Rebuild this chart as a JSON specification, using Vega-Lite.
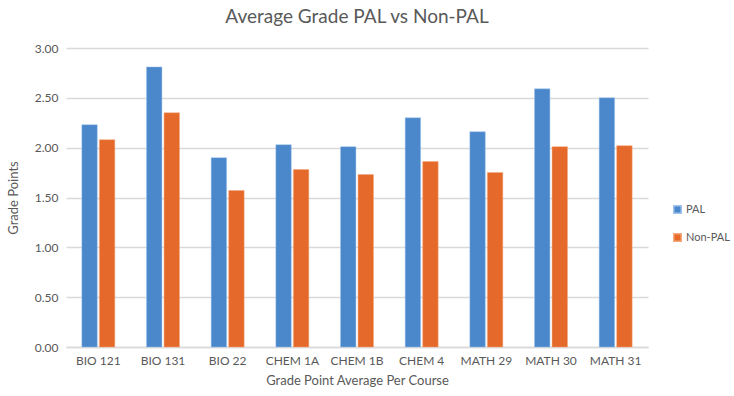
{
  "$schema": "https://vega.github.io/schema/vega-lite/v6.json",
  "autosize": "none",
  "width": 582,
  "height": 299,
  "padding": {"left": 66, "top": 48, "right": 86, "bottom": 49},
  "background": "white",
  "title": {
    "text": "Average Grade PAL vs Non-PAL",
    "font": "Lato",
    "fontSize": 19,
    "fontWeight": "normal",
    "color": "#595959",
    "anchor": "middle",
    "offset": 15
  },
  "data": {
    "values": [
      {"course": "BIO 121", "group": "PAL", "gpa": 2.23},
      {"course": "BIO 121", "group": "Non-PAL", "gpa": 2.08},
      {"course": "BIO 131", "group": "PAL", "gpa": 2.81},
      {"course": "BIO 131", "group": "Non-PAL", "gpa": 2.35},
      {"course": "BIO 22", "group": "PAL", "gpa": 1.90},
      {"course": "BIO 22", "group": "Non-PAL", "gpa": 1.57},
      {"course": "CHEM 1A", "group": "PAL", "gpa": 2.03},
      {"course": "CHEM 1A", "group": "Non-PAL", "gpa": 1.78},
      {"course": "CHEM 1B", "group": "PAL", "gpa": 2.01},
      {"course": "CHEM 1B", "group": "Non-PAL", "gpa": 1.73},
      {"course": "CHEM 4", "group": "PAL", "gpa": 2.30},
      {"course": "CHEM 4", "group": "Non-PAL", "gpa": 1.86},
      {"course": "MATH 29", "group": "PAL", "gpa": 2.16},
      {"course": "MATH 29", "group": "Non-PAL", "gpa": 1.75},
      {"course": "MATH 30", "group": "PAL", "gpa": 2.59},
      {"course": "MATH 30", "group": "Non-PAL", "gpa": 2.01},
      {"course": "MATH 31", "group": "PAL", "gpa": 2.50},
      {"course": "MATH 31", "group": "Non-PAL", "gpa": 2.02}
    ]
  },
  "mark": {"type": "bar", "strokeWidth": 0.8, "strokeOpacity": 0.6},
  "encoding": {
    "x": {
      "field": "course",
      "type": "nominal",
      "sort": null,
      "scale": {"paddingInner": 0.49, "paddingOuter": 0.245},
      "axis": {
        "title": "Grade Point Average Per Course",
        "labelAngle": 0,
        "labelFont": "Lato",
        "labelFontSize": 12,
        "labelColor": "#595959",
        "titleFont": "Lato",
        "titleFontSize": 13,
        "titleFontWeight": "normal",
        "titleColor": "#595959",
        "titlePadding": 8,
        "labelPadding": 8,
        "ticks": false,
        "domainColor": "#d9d9d9",
        "domainWidth": 1.5,
        "grid": false
      }
    },
    "xOffset": {
      "field": "group",
      "type": "nominal",
      "sort": ["PAL", "Non-PAL"],
      "scale": {"paddingInner": 0.12}
    },
    "y": {
      "field": "gpa",
      "type": "quantitative",
      "scale": {"domain": [0, 3], "nice": false},
      "axis": {
        "title": "Grade Points",
        "values": [0, 0.5, 1, 1.5, 2, 2.5, 3],
        "format": ".2f",
        "labelFont": "Lato",
        "labelFontSize": 12,
        "labelColor": "#595959",
        "labelPadding": 8,
        "titleFont": "Lato",
        "titleFontSize": 13,
        "titleFontWeight": "normal",
        "titleColor": "#595959",
        "titlePadding": 14,
        "ticks": false,
        "domain": false,
        "gridColor": "#d9d9d9",
        "gridWidth": 1.5
      }
    },
    "color": {
      "field": "group",
      "type": "nominal",
      "sort": ["PAL", "Non-PAL"],
      "scale": {"domain": ["PAL", "Non-PAL"], "range": ["#4A87CB", "#E5692A"]},
      "legend": {
        "title": null,
        "orient": "none",
        "legendX": 606,
        "legendY": 156,
        "symbolType": "square",
        "symbolSize": 56,
        "labelOffset": 3,
        "labelFont": "Lato",
        "labelFontSize": 11,
        "labelColor": "#595959",
        "rowPadding": 13
      }
    },
    "stroke": {
      "field": "group",
      "type": "nominal",
      "scale": {"domain": ["PAL", "Non-PAL"], "range": ["#9ec3ee", "#f5a77a"]},
      "legend": null
    }
  },
  "config": {"view": {"stroke": null}}
}
